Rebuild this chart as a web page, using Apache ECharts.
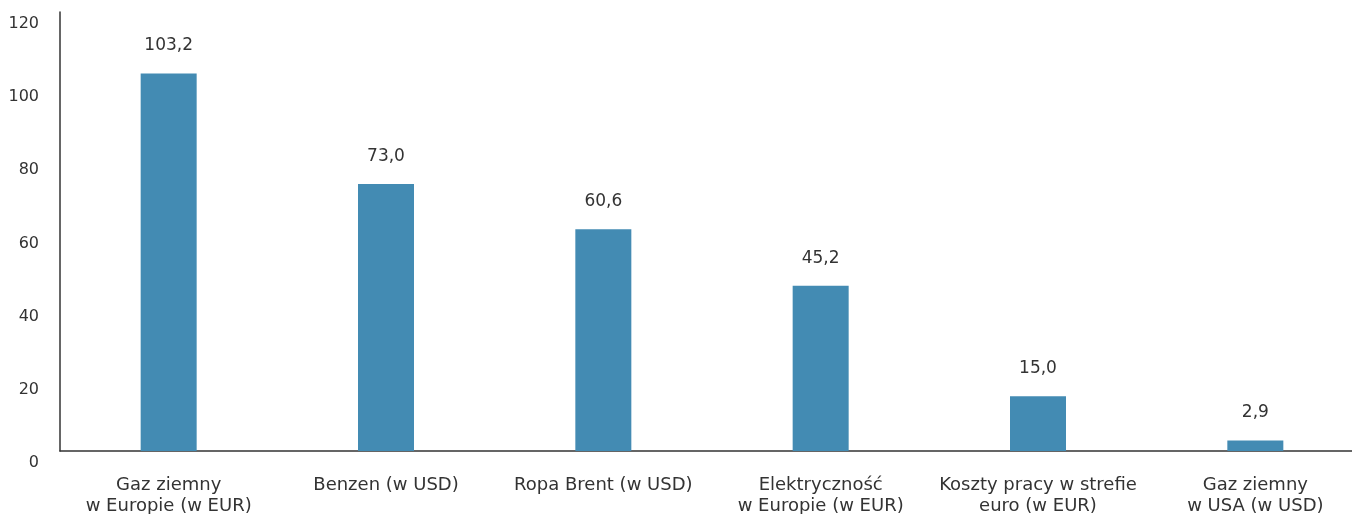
<!DOCTYPE html>
<html>
<head>
<meta charset="utf-8">
<script src="https://cdn.jsdelivr.net/npm/echarts@6/dist/echarts.min.js"></script>
<style>
  html, body { margin: 0; padding: 0; background: #fff; overflow: hidden; }
  #chart { width: 1352px; height: 514px; }
</style>
</head>
<body>
<div id="chart"></div>
<script>
// Categories (two-line labels) and their values
const categories = [
  'Gaz ziemny\nw Europie (w EUR)',
  'Benzen (w USD)',
  'Ropa Brent (w USD)',
  'Elektryczność\nw Europie (w EUR)',
  'Koszty pracy w strefie\neuro (w EUR)',
  'Gaz ziemny\nw USA (w USD)'
];
const values = [103.2, 73.0, 60.6, 45.2, 15.0, 2.9];

const yMin = 0;
const yMax = 120;
const yStep = 20;

const fontFamily = '"DejaVu Sans", sans-serif';
const textColor = '#333333';

const chart = echarts.init(document.getElementById('chart'));
chart.setOption({
  animation: false,
  // plot area runs past the right edge, so the last category is cut off
  grid: {
    left: 60, right: -12, top: 12, bottom: 63,
    containLabel: false,
    outerBoundsMode: 'none'
  },
  xAxis: {
    type: 'category',
    data: categories,
    axisLine: { show: true, lineStyle: { color: '#333333', width: 1.5 } },
    axisTick: { show: false },
    axisLabel: {
      interval: 0,
      margin: 24,
      color: textColor,
      fontFamily: fontFamily,
      fontSize: 18,
      lineHeight: 21
    }
  },
  yAxis: {
    type: 'value',
    min: yMin,
    max: yMax,
    interval: yStep,
    axisLine: { show: true, lineStyle: { color: '#333333', width: 1.5 } },
    axisTick: { show: false },
    splitLine: { show: false },
    axisLabel: {
      color: textColor,
      fontFamily: fontFamily,
      fontSize: 16,
      margin: 21,
      verticalAlign: 'top',
      padding: [4, 0, 0, 0]
    }
  },
  series: [{
    type: 'bar',
    data: values,
    barWidth: 56,
    itemStyle: { color: '#438bb3' },
    label: {
      show: true,
      position: 'top',
      distance: 19,
      color: textColor,
      fontFamily: fontFamily,
      fontSize: 17,
      formatter: p => p.value.toFixed(1).replace('.', ',')
    }
  }]
});
</script>
</body>
</html>
